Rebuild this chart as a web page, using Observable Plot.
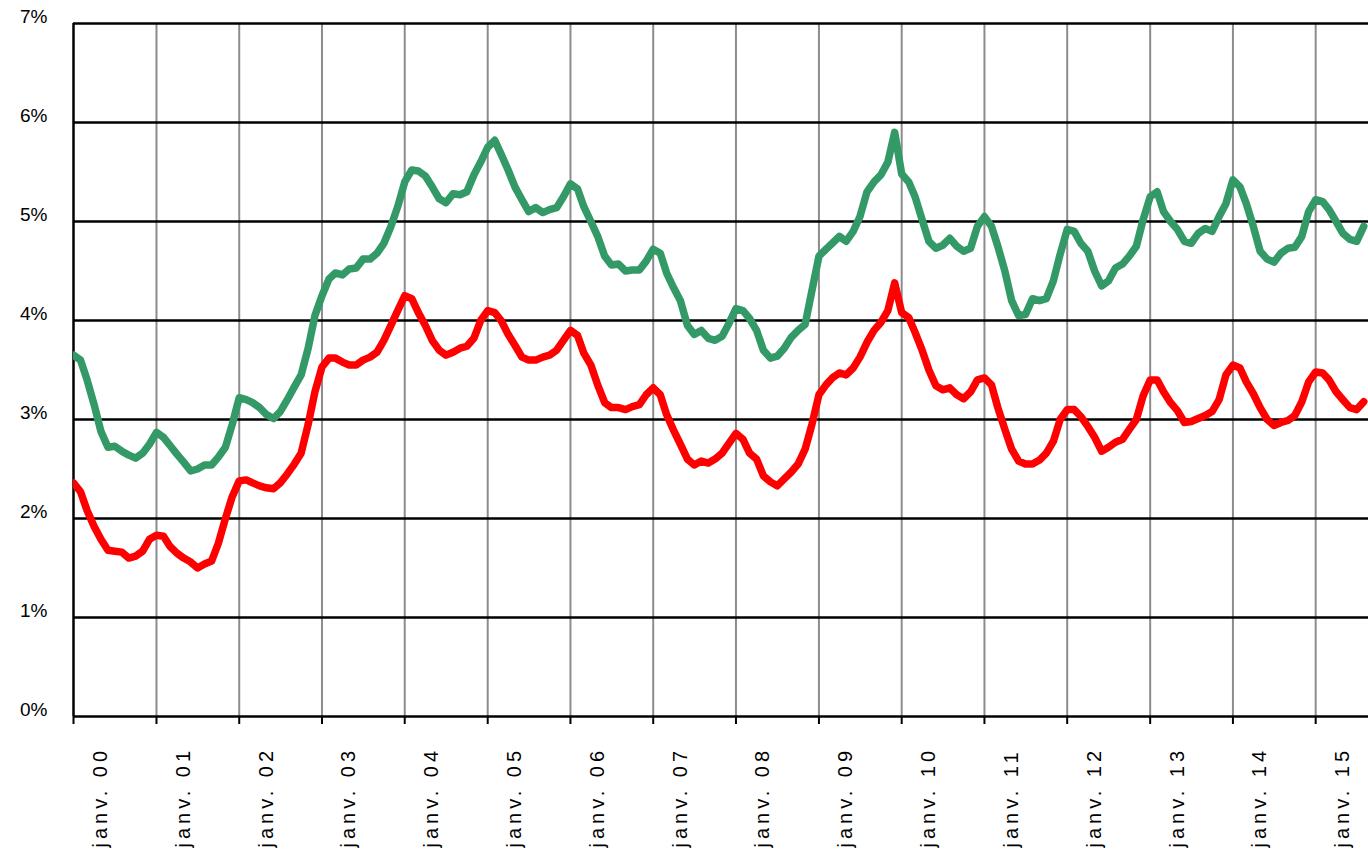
<!DOCTYPE html>
<html>
<head>
<meta charset="utf-8">
<script src="https://cdn.jsdelivr.net/npm/d3@7"></script>
<script src="https://cdn.jsdelivr.net/npm/@observablehq/plot@0.6"></script>
<style>
  html, body { margin: 0; padding: 0; background: #fff; }
  #chart svg { display: block; }
  .xlab text { letter-spacing: 4px; }
</style>
</head>
<body>
<div id="chart"></div>
<script>
// Monthly series starting January 2000
const startYear = 2000;
const green = [
  3.65, 3.6, 3.4, 3.15, 2.88, 2.72, 2.73, 2.68, 2.64, 2.61, 2.66, 2.75,
  2.87, 2.82, 2.74, 2.65, 2.57, 2.48, 2.5, 2.54, 2.54, 2.62, 2.72, 2.95,
  3.22, 3.2, 3.17, 3.12, 3.05, 3.01, 3.08, 3.2, 3.33, 3.45, 3.72, 4.05,
  4.25, 4.42, 4.48, 4.46, 4.52, 4.53, 4.62, 4.62, 4.68, 4.78, 4.95, 5.15,
  5.4, 5.52, 5.51, 5.46, 5.35, 5.23, 5.19, 5.28, 5.27, 5.3, 5.47, 5.6,
  5.75, 5.82, 5.68, 5.52, 5.35, 5.22, 5.1, 5.14, 5.09, 5.12, 5.14, 5.25,
  5.38, 5.33, 5.15, 5.0, 4.85, 4.65, 4.56, 4.57, 4.5, 4.51, 4.51, 4.6,
  4.72, 4.68, 4.48, 4.33, 4.2, 3.95, 3.86, 3.9, 3.82, 3.8, 3.84, 3.97,
  4.12, 4.1, 4.02, 3.9, 3.7, 3.62, 3.64, 3.72, 3.83, 3.9, 3.96, 4.3,
  4.65, 4.72, 4.78, 4.85, 4.8, 4.9, 5.05, 5.3, 5.4, 5.47, 5.6, 5.9,
  5.48, 5.4, 5.25, 5.02, 4.8, 4.73, 4.76, 4.83, 4.75, 4.7, 4.73, 4.95,
  5.05, 4.95, 4.75, 4.5, 4.2, 4.05, 4.06, 4.22, 4.2, 4.22, 4.4, 4.67,
  4.92, 4.9, 4.78, 4.7, 4.5, 4.35, 4.4, 4.53, 4.57, 4.65, 4.75, 5.02,
  5.25, 5.3, 5.1, 5.0, 4.92, 4.8, 4.78, 4.88, 4.93, 4.9, 5.05, 5.18,
  5.42, 5.35, 5.18, 4.95, 4.7, 4.62, 4.59, 4.68, 4.73, 4.74, 4.85, 5.1,
  5.22, 5.2, 5.12, 5.0, 4.88, 4.82, 4.8, 4.95
];
const red = [
  2.36, 2.27, 2.08, 1.92, 1.79, 1.68, 1.67, 1.66, 1.6, 1.62, 1.67, 1.79,
  1.83, 1.82, 1.72, 1.65, 1.6, 1.56, 1.5, 1.54, 1.57, 1.75, 2.0, 2.22,
  2.38, 2.39, 2.36, 2.33, 2.31, 2.3, 2.36, 2.45, 2.55, 2.66, 2.95, 3.28,
  3.53, 3.62, 3.62, 3.58, 3.55, 3.55, 3.6, 3.63, 3.68, 3.8, 3.95, 4.1,
  4.25, 4.22, 4.08, 3.95, 3.8, 3.7, 3.65, 3.68, 3.72, 3.74, 3.82, 4.0,
  4.1, 4.08, 4.0, 3.86, 3.75, 3.63, 3.6, 3.6, 3.63, 3.65, 3.7, 3.8,
  3.9, 3.85, 3.67, 3.55, 3.35, 3.17, 3.12, 3.12, 3.1, 3.13, 3.15, 3.25,
  3.32, 3.25, 3.05, 2.89, 2.75, 2.6, 2.54, 2.58, 2.56, 2.6, 2.66, 2.76,
  2.86, 2.8, 2.66, 2.6, 2.43, 2.37, 2.33, 2.4, 2.47, 2.55, 2.7, 2.95,
  3.25, 3.35, 3.42, 3.47, 3.45, 3.52, 3.63, 3.78, 3.9, 3.98, 4.1, 4.38,
  4.08, 4.03, 3.88, 3.7, 3.5, 3.34, 3.3, 3.32, 3.25, 3.21, 3.28, 3.4,
  3.42, 3.35, 3.12, 2.9, 2.7, 2.58, 2.55, 2.55, 2.59, 2.66, 2.78, 3.0,
  3.1, 3.1, 3.03, 2.93, 2.82, 2.68, 2.72, 2.77, 2.8, 2.9, 3.0, 3.24,
  3.4, 3.4, 3.28, 3.17, 3.09, 2.97, 2.98, 3.01, 3.04, 3.08, 3.2, 3.45,
  3.55, 3.52, 3.38, 3.26, 3.12, 3.0, 2.94, 2.97, 2.99, 3.04, 3.18, 3.38,
  3.48, 3.47, 3.4, 3.28, 3.2, 3.12, 3.1, 3.18
];
const yTicks = [0, 1, 2, 3, 4, 5, 6, 7];
const yearTicks = d3.range(2000, 2016);
const xLabels = ["00","01","02","03","04","05","06","07","08","09","10","11","12","13","14","15"].map(s => "janv. " + s);

const monthDate = i => new Date(Date.UTC(startYear, i, 1));
const rows = [];
green.forEach((v, i) => rows.push({date: monthDate(i), value: v, series: "green"}));
red.forEach((v, i) => rows.push({date: monthDate(i), value: v, series: "red"}));
const janDates = yearTicks.map(y => new Date(Date.UTC(y, 0, 1)));
const labelRows = janDates.map((d, i) => ({date: d, label: xLabels[i]}));

const chart = Plot.plot({
  width: 1368,
  height: 852,
  marginLeft: 73,
  marginRight: 0,
  marginTop: 23,
  marginBottom: 136,
  style: {fontFamily: "'Liberation Sans', Arial, sans-serif", background: "#fff"},
  x: {type: "utc", domain: [new Date(Date.UTC(2000, 0, 1)), new Date(Date.UTC(2015, 7, 22))], axis: null},
  y: {domain: [0, 7], axis: null},
  marks: [
    Plot.ruleX(janDates.slice(1), {stroke: "#8c8c8c", strokeWidth: 2}),
    Plot.ruleY(yTicks, {stroke: "#000", strokeWidth: 2.5}),
    Plot.ruleX([janDates[0]], {stroke: "#000", strokeWidth: 2.5}),
    Plot.axisX({ticks: janDates, tickSize: 8, tickFormat: () => "", stroke: "#000", strokeWidth: 2, label: null}),
    Plot.text(yTicks, {
      x: () => janDates[0], y: d => d, text: d => d + "%",
      textAnchor: "end", dx: -26, dy: -7, fontSize: 19, fill: "#000"
    }),
    Plot.text(labelRows, {
      x: "date", text: "label", frameAnchor: "bottom",
      rotate: -90, textAnchor: "start", lineAnchor: "middle",
      dx: 27, dy: 131, fontSize: 20, fill: "#000",
      className: "xlab"
    }),
    Plot.line(rows.filter(d => d.series === "green"), {
      x: "date", y: "value", stroke: "#339966", strokeWidth: 7.5,
      strokeLinejoin: "round", clip: true
    }),
    Plot.line(rows.filter(d => d.series === "red"), {
      x: "date", y: "value", stroke: "#ff0000", strokeWidth: 7.5,
      strokeLinejoin: "round", clip: true
    })
  ]
});
document.getElementById("chart").appendChild(chart);
d3.select(chart).selectAll("g.xlab text").style("letter-spacing", "4px");
</script>
</body>
</html>
